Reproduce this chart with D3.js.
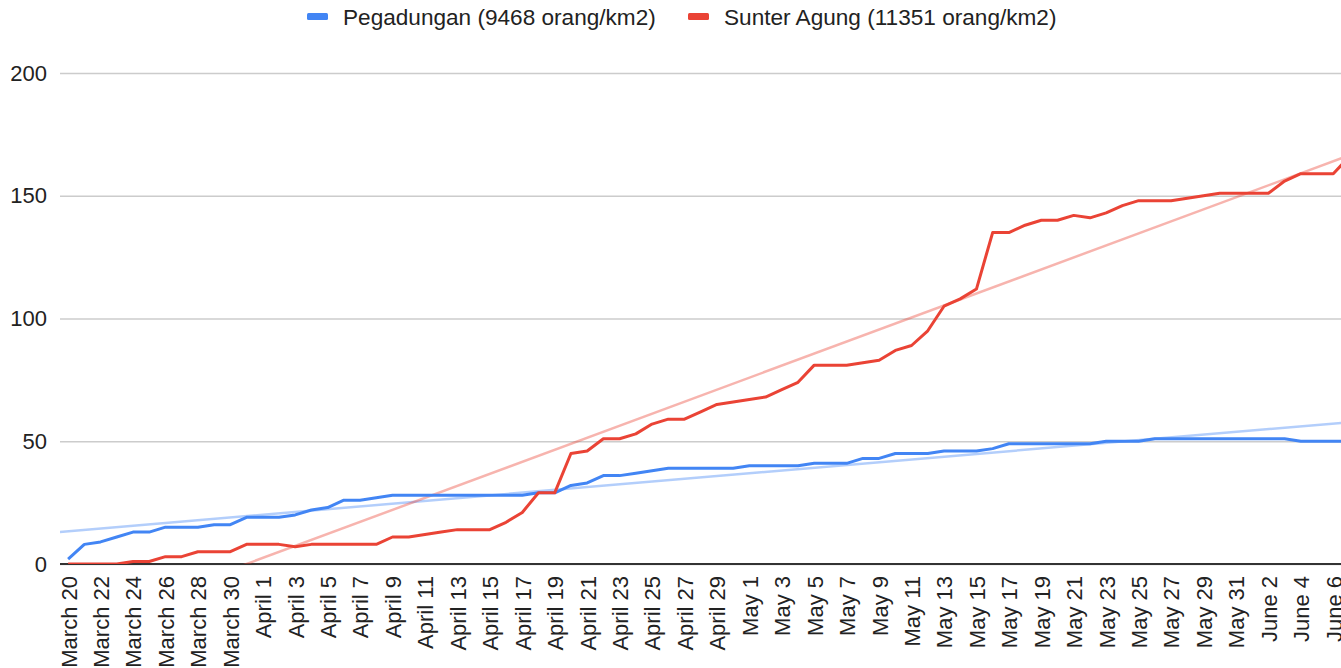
<!DOCTYPE html>
<html>
<head>
<meta charset="utf-8">
<script src="https://cdn.jsdelivr.net/npm/d3@7"></script>
<style>
  body { margin: 0; background: #fff; }
  svg { display: block; }
  text { font-family: "Liberation Sans", Arial, sans-serif; fill: #222; }
</style>
</head>
<body>
<div id="chart-area"></div>
<script>
// dates on the category axis (the reference is cropped just after June 6)
var dates = [
  "March 20","March 21","March 22","March 23","March 24","March 25","March 26","March 27","March 28","March 29","March 30","March 31",
  "April 1","April 2","April 3","April 4","April 5","April 6","April 7","April 8","April 9","April 10",
  "April 11","April 12","April 13","April 14","April 15","April 16","April 17","April 18","April 19","April 20",
  "April 21","April 22","April 23","April 24","April 25","April 26","April 27","April 28","April 29","April 30",
  "May 1","May 2","May 3","May 4","May 5","May 6","May 7","May 8","May 9","May 10",
  "May 11","May 12","May 13","May 14","May 15","May 16","May 17","May 18","May 19","May 20",
  "May 21","May 22","May 23","May 24","May 25","May 26","May 27","May 28","May 29","May 30","May 31",
  "June 1","June 2","June 3","June 4","June 5","June 6","June 7"
];

var pegadungan = [
  2, 8, 9, 11, 13, 13, 15, 15, 15, 16, 16, 19,
  19, 19, 20, 22, 23, 26, 26, 27, 28, 28,
  28, 28, 28, 28, 28, 28, 28, 29, 29, 32,
  33, 36, 36, 37, 38, 39, 39, 39, 39, 39,
  40, 40, 40, 40, 41, 41, 41, 43, 43, 45,
  45, 45, 46, 46, 46, 47, 49, 49, 49, 49,
  49, 49, 50, 50, 50, 51, 51, 51, 51, 51, 51,
  51, 51, 51, 50, 50, 50, 50
];

var sunterAgung = [
  0, 0, 0, 0, 1, 1, 3, 3, 5, 5, 5, 8,
  8, 8, 7, 8, 8, 8, 8, 8, 11, 11,
  12, 13, 14, 14, 14, 17, 21, 29, 29, 45,
  46, 51, 51, 53, 57, 59, 59, 62, 65, 66,
  67, 68, 71, 74, 81, 81, 81, 82, 83, 87,
  89, 95, 105, 108, 112, 135, 135, 138, 140, 140,
  142, 141, 143, 146, 148, 148, 148, 149, 150, 151, 151,
  151, 151, 156, 159, 159, 159, 166
];

var seriesNames = ["Pegadungan (9468 orang/km2)", "Sunter Agung (11351 orang/km2)"];
var seriesColors = ["#4285f4", "#ea4335"];
var yTicks = [0, 50, 100, 150, 200];

var W = 1341, H = 668;
var plotLeft = 60, plotTop = 73, plotBottom = 564;
var step = 16.22;

var svg = d3.select("#chart-area").append("svg")
    .attr("width", W)
    .attr("height", H);

// x: one band per day, point sits in the middle of its band
var x = d3.scalePoint()
    .domain(dates)
    .range([plotLeft, plotLeft + step * dates.length])
    .padding(0.5);

var y = d3.scaleLinear()
    .domain([0, 200])
    .range([plotBottom, plotTop]);

// gridlines + y labels
var yAxis = d3.axisLeft(y)
    .tickValues(yTicks)
    .tickSize(-(W - plotLeft))
    .tickPadding(13);

svg.append("g")
    .attr("transform", "translate(" + plotLeft + ",0)")
    .call(yAxis)
    .call(function (g) {
        g.select(".domain").remove();
        g.selectAll(".tick line")
            .attr("stroke", "#cccccc")
            .attr("stroke-width", 1.5);
        g.selectAll(".tick text")
            .attr("font-size", "22px")
            .attr("fill", "#222")
            .attr("font-family", "'Liberation Sans', Arial, sans-serif");
    });

// x labels, every other day, rotated
var xAxis = d3.axisBottom(x)
    .tickValues(dates.filter(function (d, i) { return i % 2 == 0; }))
    .tickSize(0)
    .tickPadding(0);

svg.append("g")
    .attr("transform", "translate(0," + plotBottom + ")")
    .call(xAxis)
    .call(function (g) {
        g.select(".domain").remove();
        g.selectAll(".tick text")
            .attr("font-size", "22px")
            .attr("fill", "#222")
            .attr("font-family", "'Liberation Sans', Arial, sans-serif")
            .attr("text-anchor", "end")
            .attr("transform", "rotate(-90)")
            .attr("x", -12)
            .attr("y", 0)
            .attr("dy", "0.36em");
    });

// baseline
svg.append("line")
    .attr("x1", plotLeft).attr("x2", W)
    .attr("y1", y(0)).attr("y2", y(0))
    .attr("stroke", "#333")
    .attr("stroke-width", 2);

svg.append("clipPath").attr("id", "plot")
  .append("rect")
    .attr("x", plotLeft).attr("y", plotTop - 20)
    .attr("width", W - plotLeft).attr("height", plotBottom - plotTop + 20);

var plot = svg.append("g").attr("clip-path", "url(#plot)");

// linear trendlines (least squares on the day index)
function fit(vals) {
    var mx = d3.mean(vals, function (v, i) { return i; });
    var my = d3.mean(vals);
    var sxy = 0, sxx = 0;
    vals.forEach(function (v, i) {
        sxy += (i - mx) * (v - my);
        sxx += (i - mx) * (i - mx);
    });
    var b = sxy / sxx;
    return { a: my - b * mx, b: b };
}

var allSeries = [pegadungan, sunterAgung];

var xi = d3.scaleLinear().domain([0, dates.length - 1])
    .range([x(dates[0]), x(dates[dates.length - 1])]);

allSeries.forEach(function (vals, k) {
    var f = fit(vals);
    var i0 = -0.5, i1 = vals.length - 0.5;
    plot.append("line")
        .attr("x1", xi(i0)).attr("y1", y(f.a + f.b * i0))
        .attr("x2", xi(i1)).attr("y2", y(f.a + f.b * i1))
        .attr("stroke", seriesColors[k])
        .attr("stroke-opacity", 0.4)
        .attr("stroke-width", 2.5);
});

var line = d3.line()
    .x(function (d, i) { return x(dates[i]); })
    .y(function (d) { return y(d); });

allSeries.forEach(function (vals, k) {
    plot.append("path")
        .datum(vals)
        .attr("fill", "none")
        .attr("stroke", seriesColors[k])
        .attr("stroke-width", 3)
        .attr("stroke-linejoin", "round")
        .attr("d", line);
});

// legend
var legendX = [307, 688];
var legend = svg.append("g");
seriesNames.forEach(function (name, k) {
    legend.append("rect")
        .attr("x", legendX[k]).attr("y", 13)
        .attr("width", 21).attr("height", 7)
        .attr("rx", 1.5)
        .attr("fill", seriesColors[k]);
    legend.append("text")
        .attr("x", legendX[k] + 36)
        .attr("y", 25)
        .attr("font-size", "22.6px")
        .text(name);
});
</script>
</body>
</html>
